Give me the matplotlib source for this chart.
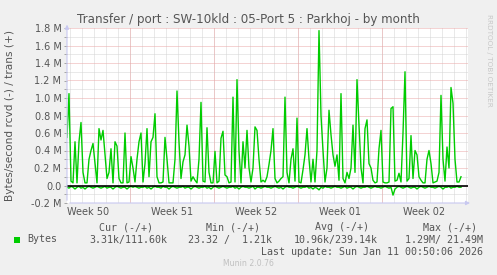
import numpy as np
import matplotlib
matplotlib.use("Agg")
import matplotlib.pyplot as plt

# Munin "by month" graph, one sample every 4 hours (values in millions of bytes/s)
step_hours = 4
trans = [
    0.55, 1.05, 0.05, 0.03, 0.50, 0.03, 0.50, 0.72, 0.15, 0.03, 0.03, 0.30, 0.40, 0.48, 0.25, 0.03, 0.65,
    0.52, 0.63, 0.35, 0.08, 0.15, 0.42, 0.03, 0.50, 0.45, 0.08, 0.03, 0.03, 0.60, 0.03, 0.04, 0.33, 0.20,
    0.04, 0.30, 0.50, 0.60, 0.04, 0.25, 0.65, 0.10, 0.50, 0.55, 0.82, 0.10, 0.03, 0.03, 0.04, 0.55, 0.30,
    0.03, 0.03, 0.03, 0.30, 1.08, 0.50, 0.08, 0.27, 0.35, 0.69, 0.45, 0.05, 0.10, 0.06, 0.03, 0.30, 0.95,
    0.05, 0.04, 0.66, 0.15, 0.03, 0.03, 0.39, 0.03, 0.05, 0.54, 0.62, 0.12, 0.10, 0.03, 0.04, 1.01, 0.04,
    1.21, 0.40, 0.03, 0.50, 0.20, 0.63, 0.20, 0.04, 0.20, 0.67, 0.63, 0.30, 0.04, 0.06, 0.04, 0.10, 0.24,
    0.40, 0.65, 0.08, 0.03, 0.05, 0.08, 0.10, 1.01, 0.15, 0.03, 0.30, 0.42, 0.05, 0.77, 0.04, 0.03, 0.18,
    0.35, 0.65, 0.30, 0.04, 0.30, 0.04, 0.40, 1.77, 0.80, 0.40, 0.04, 0.20, 0.86, 0.58, 0.35, 0.22, 0.35,
    0.06, 1.05, 0.08, 0.03, 0.15, 0.08, 0.20, 0.69, 0.15, 1.21, 0.69, 0.20, 0.03, 0.65, 0.75, 0.25, 0.20,
    0.06, 0.03, 0.04, 0.42, 0.63, 0.04, 0.03, 0.03, 0.04, 0.88, 0.90, 0.05, 0.06, 0.14, 0.04, 0.60, 1.30,
    0.05, 0.08, 0.57, 0.08, 0.40, 0.35, 0.10, 0.06, 0.03, 0.03, 0.30, 0.40, 0.25, 0.03, 0.04, 0.05, 0.15,
    1.03, 0.30, 0.05, 0.44, 0.20, 1.12, 0.94, 0.30, 0.04, 0.04, 0.10,
]
rcvd = [
    -0.02, -0.03, -0.01, -0.02, -0.04, -0.02, -0.01, -0.03, -0.02, -0.04, -0.02, -0.01, -0.02, -0.03, -0.02, -0.01, -0.02,
    -0.03, -0.02, -0.01, -0.03, -0.02, -0.02, -0.04, -0.02, -0.01, -0.02, -0.03, -0.02, -0.02, -0.04, -0.02, -0.01, -0.02,
    -0.01, -0.02, -0.03, -0.02, -0.02, -0.01, -0.03, -0.02, -0.04, -0.02, -0.01, -0.02, -0.02, -0.03, -0.01, -0.02, -0.02,
    -0.04, -0.02, -0.01, -0.02, -0.03, -0.02, -0.02, -0.01, -0.03, -0.02, -0.02, -0.04, -0.02, -0.01, -0.02, -0.03, -0.02,
    -0.02, -0.01, -0.03, -0.02, -0.04, -0.02, -0.01, -0.02, -0.03, -0.02, -0.01, -0.02, -0.03, -0.02, -0.02, -0.01, -0.03,
    -0.02, -0.04, -0.02, -0.01, -0.02, -0.02, -0.03, -0.02, -0.01, -0.04, -0.02, -0.02, -0.03, -0.02, -0.01, -0.02, -0.02,
    -0.03, -0.02, -0.01, -0.02, -0.03, -0.02, -0.04, -0.02, -0.01, -0.02, -0.02, -0.03, -0.02, -0.01, -0.02, -0.03, -0.02,
    -0.02, -0.01, -0.03, -0.02, -0.04, -0.02, -0.03, -0.05, -0.02, -0.03, -0.01, -0.02, -0.02, -0.03, -0.02, -0.01, -0.02,
    -0.02, -0.03, -0.02, -0.01, -0.03, -0.02, -0.02, -0.04, -0.02, -0.01, -0.02, -0.03, -0.02, -0.02, -0.01, -0.02, -0.03,
    -0.02, -0.01, -0.02, -0.02, -0.03, -0.02, -0.01, -0.02, -0.03, -0.02, -0.11, -0.04, -0.02, -0.01, -0.02, -0.03, -0.02,
    -0.01, -0.02, -0.03, -0.02, -0.02, -0.04, -0.02, -0.01, -0.02, -0.03, -0.02, -0.01, -0.02, -0.02, -0.03, -0.02, -0.01,
    -0.02, -0.04, -0.02, -0.02, -0.01, -0.03, -0.02, -0.02, -0.01, -0.02, -0.02,
]
week_labels = ["Week 50", "Week 51", "Week 52", "Week 01", "Week 02"]
week_starts = [126, 294, 462, 630]      # hours from start of graph
span_hours = 802

title = "Transfer / port : SW-10kld : 05-Port 5 : Parkhoj - by month"
legend_head = ["Cur (-/+)", "Min (-/+)", "Avg (-/+)", "Max (-/+)"]
legend_vals = ["3.31k/111.60k", "23.32 /  1.21k", "10.96k/239.14k", "1.29M/ 21.49M"]

hours = np.arange(len(trans)) * step_hours
txt = "#555555"
green = "#00CC00"

fig = plt.figure(figsize=(4.97, 2.75), dpi=100, facecolor="#F0F0F0")
W, H = 497.0, 275.0
ax = fig.add_axes([67 / W, 1 - 203 / H, 401 / W, 175 / H], facecolor="white")

ax.plot(hours, trans, color=green, lw=1.0, zorder=3)
ax.plot(hours, rcvd, color=green, lw=1.0, zorder=3)
ax.axhline(0, color="black", lw=1.2, zorder=4)

ax.set_xlim(0, span_hours)
ax.set_ylim(-0.2, 1.8)

# grid lines like rrdtool: 1px-on/1px-off dots, gray minor, reddish major
dot = (0, (1, 1))
gl = 0.72
for h in np.arange(6, span_hours, 24):
    ax.axvline(h, color="#D4D4D4", lw=gl, ls=dot, zorder=1)
for h in week_starts:
    ax.axvline(h, color="#EBA8A8", lw=gl, ls=dot, zorder=1.5)
for v in np.arange(-0.1, 1.8, 0.2):
    ax.axhline(v, color="#D4D4D4", lw=gl, ls=dot, zorder=1)
for v in np.arange(-0.2, 1.81, 0.2):
    ax.axhline(v, color="#EBA8A8", lw=gl, ls=dot, zorder=1.5)

yt = np.round(np.arange(-0.2, 1.81, 0.2), 1)
ax.set_yticks(yt, ["0.0" if v == 0 else f"{v:.1f} M" for v in yt])
ax.set_yticks(np.arange(-0.1, 1.8, 0.2), minor=True)
ax.set_xticks([w - 84 for w in week_starts] + [week_starts[-1] + 84], week_labels)
ax.tick_params(axis="y", which="both", direction="out", length=2.5, width=0.6, color="#999999",
               labelsize=7, labelcolor=txt, pad=1.5)
ax.tick_params(axis="x", which="both", length=0, labelsize=7, labelcolor=txt, pad=3)
for s in ax.spines.values():
    s.set_visible(False)

# axis lines with arrows
arrow = dict(arrowstyle="-|>", color="#C8C8F0", lw=0.8, mutation_scale=6)
ax.annotate("", xy=(0, 1.035), xytext=(0, 0), xycoords="axes fraction", arrowprops=arrow,
            annotation_clip=False, zorder=5)
ax.annotate("", xy=(1.012, 0), xytext=(0, 0), xycoords="axes fraction", arrowprops=arrow,
            annotation_clip=False, zorder=5)

fig.text(248.5 / W, 1 - 19 / H, title, ha="center", va="center", fontsize=8.6, color=txt)
fig.text(10 / W, 1 - 115.5 / H, "Bytes/second rcvd (-) / trans (+)", rotation=90,
         ha="center", va="center", fontsize=7.6, color=txt)
fig.text(489 / W, 1 - 14 / H, "RRDTOOL / TOBI OETIKER", rotation=270, ha="center", va="top",
         fontsize=5.2, color="#C8C8C8")

mono = "DejaVu Sans Mono"
for x, s in zip([99, 206, 315, 423], legend_head):
    fig.text(x / W, 1 - 227.5 / H, s, ha="left", va="center", family=mono, fontsize=7.2, color=txt)
for x, s in zip([167, 272, 378, 483], legend_vals):
    fig.text(x / W, 1 - 239.5 / H, s, ha="right", va="center", family=mono, fontsize=7.2, color=txt)
fig.patches.append(plt.Rectangle((14 / W, 1 - 242.5 / H), 6 / W, 6 / H, transform=fig.transFigure,
                                 facecolor=green, edgecolor="none"))
fig.text(27 / W, 1 - 239.5 / H, "Bytes", ha="left", va="center", family=mono, fontsize=7.2, color=txt)
fig.text(483 / W, 1 - 251.7 / H, "Last update: Sun Jan 11 00:50:06 2026", ha="right", va="center",
         family=mono, fontsize=7.2, color=txt)
fig.text(248 / W, 1 - 263.5 / H, "Munin 2.0.76", ha="center", va="center", fontsize=5.6, color="#C0C0C0")

fig.savefig("out.png", dpi=100, facecolor=fig.get_facecolor())
